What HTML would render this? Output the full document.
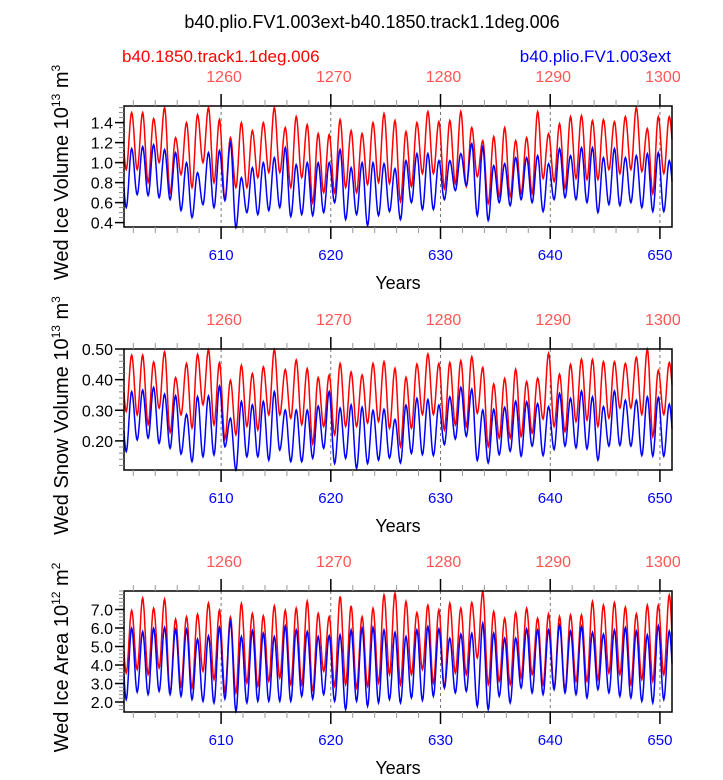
<!DOCTYPE html>
<html><head><meta charset="utf-8"><style>
body{margin:0;background:#fff}
svg text{font-family:"Liberation Sans",sans-serif}
</style></head><body>
<svg id="chart" width="723" height="775" xmlns="http://www.w3.org/2000/svg">
<text x="372" y="28" font-size="18" text-anchor="middle">b40.plio.FV1.003ext-b40.1850.track1.1deg.006</text>
<text x="122" y="62" font-size="17" fill="#ff0000">b40.1850.track1.1deg.006</text>
<text x="671" y="62" font-size="17" fill="#0000ff" text-anchor="end">b40.plio.FV1.003ext</text>
<g id="panels"></g>
</svg>
<script>
// ---- data: annual maxima/minima per year, starting at year 601 (red = year+650) ----
const startYear = 601;
const xTicksBlue = [610,620,630,640,650];
const xTicksRed = [1260,1270,1280,1290,1300];
// Panel 1: ice volume
const iceVolRedMax = [1.50,1.50,1.44,1.55,1.25,1.40,1.48,1.55,1.43,1.25,1.40,1.32,1.40,1.55,1.35,1.46,1.38,1.29,1.28,1.43,1.32,1.29,1.40,1.49,1.42,1.31,1.40,1.51,1.41,1.42,1.51,1.35,1.22,1.26,1.35,1.22,1.25,1.51,1.29,1.39,1.46,1.47,1.42,1.43,1.41,1.46,1.55,1.34,1.46,1.46,1.40];
const iceVolRedMin = [0.93,0.93,0.80,1.00,0.70,0.88,0.75,1.00,0.80,0.63,0.75,0.75,0.85,0.90,0.90,0.75,0.85,0.60,0.70,0.70,0.75,0.70,0.78,0.80,0.79,0.61,0.76,0.89,0.89,0.74,0.79,0.76,0.86,0.59,0.66,0.66,0.69,0.69,0.84,0.81,0.74,0.84,0.83,0.83,0.93,0.89,0.93,0.91,0.69,0.89,1.00];
const iceVolBlueMax = [1.14,1.16,1.18,1.13,1.10,1.00,0.90,1.10,1.12,1.20,0.85,0.95,1.00,1.05,1.15,0.98,1.00,1.00,1.00,1.13,0.95,1.00,1.00,0.99,0.94,1.02,1.09,1.09,1.02,1.02,1.09,1.19,1.16,0.97,0.99,1.05,1.05,1.07,0.99,1.14,1.07,1.15,1.15,1.05,1.14,1.05,1.07,1.09,1.10,1.02,0.98];
const iceVolBlueMin = [0.55,0.68,0.67,0.65,0.63,0.52,0.45,0.58,0.55,0.62,0.35,0.50,0.48,0.52,0.55,0.46,0.48,0.47,0.50,0.60,0.43,0.48,0.37,0.47,0.51,0.43,0.60,0.53,0.53,0.63,0.72,0.77,0.47,0.42,0.60,0.57,0.63,0.60,0.51,0.63,0.65,0.63,0.60,0.50,0.58,0.57,0.60,0.55,0.51,0.51,0.60];
// Panel 2: snow volume
const snowRedMax = [0.480,0.480,0.458,0.491,0.407,0.453,0.483,0.498,0.455,0.398,0.447,0.420,0.442,0.498,0.433,0.464,0.436,0.407,0.415,0.453,0.425,0.415,0.453,0.459,0.437,0.408,0.451,0.484,0.453,0.456,0.462,0.475,0.440,0.386,0.404,0.434,0.394,0.405,0.486,0.418,0.450,0.467,0.466,0.459,0.459,0.453,0.473,0.499,0.430,0.456,0.45];
const snowRedMin = [0.296,0.285,0.253,0.307,0.227,0.285,0.242,0.318,0.253,0.206,0.220,0.247,0.236,0.285,0.285,0.274,0.253,0.191,0.247,0.220,0.247,0.247,0.258,0.263,0.241,0.181,0.241,0.286,0.286,0.236,0.252,0.247,0.290,0.181,0.209,0.209,0.214,0.225,0.271,0.247,0.230,0.263,0.268,0.247,0.274,0.307,0.307,0.286,0.214,0.286,0.31];
const snowBlueMax = [0.361,0.366,0.375,0.353,0.348,0.287,0.345,0.347,0.379,0.274,0.329,0.318,0.329,0.361,0.301,0.301,0.301,0.314,0.361,0.307,0.318,0.310,0.300,0.303,0.270,0.317,0.339,0.335,0.317,0.344,0.375,0.369,0.301,0.303,0.310,0.330,0.328,0.322,0.312,0.355,0.339,0.363,0.344,0.312,0.363,0.333,0.333,0.344,0.342,0.320,0.32];
const snowBlueMin = [0.165,0.203,0.209,0.192,0.176,0.157,0.132,0.148,0.154,0.181,0.105,0.148,0.148,0.137,0.170,0.132,0.132,0.143,0.176,0.126,0.143,0.110,0.126,0.137,0.144,0.128,0.159,0.155,0.152,0.188,0.206,0.215,0.136,0.128,0.155,0.166,0.150,0.183,0.152,0.172,0.183,0.177,0.174,0.137,0.183,0.185,0.183,0.152,0.150,0.150,0.16];
// Panel 3: ice area
const areaRedMax = [6.95,7.62,7.07,7.56,6.48,6.61,6.75,7.35,6.96,6.59,7.33,6.79,6.66,7.20,6.96,7.07,7.45,6.79,6.61,7.71,7.20,6.61,7.07,7.79,7.88,7.43,6.84,7.24,6.99,7.34,7.07,7.38,7.97,6.89,6.53,6.84,7.07,6.53,6.77,6.62,6.71,6.71,7.43,7.24,7.38,7.13,6.77,7.24,7.24,7.79,7.5];
const areaRedMin = [3.57,3.75,3.48,3.84,2.49,2.85,2.76,3.66,3.21,2.58,2.49,3.03,2.85,3.12,3.30,2.94,2.94,2.58,3.66,2.85,2.94,2.76,2.85,3.03,3.48,2.94,3.48,3.75,3.03,2.76,3.57,3.48,4.38,2.94,3.12,2.94,3.30,3.48,2.94,2.76,2.67,3.12,3.12,3.21,3.57,3.48,2.94,3.21,3.12,3.48,3.3];
const areaBlueMax = [5.99,5.81,5.99,6.04,5.93,5.93,5.40,5.58,6.04,6.35,5.54,5.86,5.72,5.54,6.11,5.90,5.81,5.54,5.59,5.63,5.90,5.99,6.04,5.90,5.77,5.54,5.90,6.08,5.95,5.45,5.67,5.72,6.26,5.72,5.45,5.45,5.95,5.90,5.90,6.17,5.84,6.08,5.77,5.67,5.90,6.02,5.84,5.63,6.13,5.84,5.8];
const areaBlueMin = [2.13,2.53,2.40,2.58,2.40,2.31,2.13,2.04,1.95,2.17,1.50,1.95,2.04,2.04,2.04,2.04,2.31,2.17,2.40,2.04,1.59,2.04,1.77,1.95,2.13,1.95,2.22,2.08,2.31,2.76,2.49,2.58,1.77,1.59,2.31,1.95,2.76,2.49,2.40,2.67,2.49,2.40,2.22,2.67,2.49,2.31,2.22,2.04,1.95,2.13,2.31];

const panels = [
 {name:'ice-volume', top:106, bottom:227, ymin:0.356, ymax:1.566, ticks:[0.4,0.6,0.8,1.0,1.2,1.4], fmt:v=>v.toFixed(1), minor:0.05,
  title:'Wed Ice Volume 10', exp:'13', unit:' m', uexp:'3', red:[iceVolRedMax,iceVolRedMin], blue:[iceVolBlueMax,iceVolBlueMin]},
 {name:'snow-volume', top:349, bottom:470, ymin:0.105, ymax:0.50, ticks:[0.2,0.3,0.4,0.5], fmt:v=>v.toFixed(2), minor:0.02,
  title:'Wed Snow Volume 10', exp:'13', unit:' m', uexp:'3', red:[snowRedMax,snowRedMin], blue:[snowBlueMax,snowBlueMin]},
 {name:'ice-area', top:591, bottom:712, ymin:1.46, ymax:8.0, ticks:[2,3,4,5,6,7], fmt:v=>v.toFixed(1), minor:0.2,
  title:'Wed Ice Area 10', exp:'12', unit:' m', uexp:'2', red:[areaRedMax,areaRedMin], blue:[areaBlueMax,areaBlueMin]}
];
const X0=124, X1=672, yr0=601.15, yr1=651.1;
const xs = y => X0 + (y-yr0)/(yr1-yr0)*(X1-X0);
const NS='http://www.w3.org/2000/svg';
const root=document.getElementById('panels');
function mk(tag,attrs,parent){const e=document.createElementNS(NS,tag);for(const k in attrs)e.setAttribute(k,attrs[k]);(parent||root).appendChild(e);return e;}

panels.forEach((p,pi)=>{
  const g=mk('g',{});
  
  
  const ys=v=>p.bottom-(v-p.ymin)/(p.ymax-p.ymin)*(p.bottom-p.top);
  xTicksBlue.forEach(t=>{
    const l=mk('line',{x1:xs(t),x2:xs(t),y1:p.top,y2:p.bottom,stroke:'#555','stroke-width':0.8,'stroke-dasharray':'3,3'},g);
    
    
  });
  function series(arr,color,nm){
    const mx=arr[0], mn=arr[1];
    const ext=[];
    for(let i=0;i<mx.length;i++){ext.push([startYear+i+0.35,mn[i]]);ext.push([startYear+i+0.85,mx[i]]);}
    ext.unshift([startYear-0.15,mx[0]]);
    let d='';
    for(let k=0;k<ext.length-1;k++){
      const [t0,v0]=ext[k],[t1,v1]=ext[k+1];
      for(let s=0;s<=10;s++){
        const t=t0+(t1-t0)*s/10; if(t<yr0||t>yr1) continue;
        const v=v0+(v1-v0)*(1-Math.cos(Math.PI*s/10))/2;
        d+=(d?'L':'M')+xs(t).toFixed(1)+','+ys(v).toFixed(1);
      }
    }
    const path=mk('path',{d:d,fill:'none',stroke:color,'stroke-width':1.5},g);
    
    
  }
  series(p.red,'#ff0000',p.name+'-red-line');
  series(p.blue,'#0000ff',p.name+'-blue-line');
  const fr=mk('rect',{x:X0,y:p.top,width:X1-X0,height:p.bottom-p.top,fill:'none',stroke:'#000','stroke-width':1.5},g);
  
  
  for(let y=602;y<=650;y+=2){
    const major=y%10===0;
    mk('line',{x1:xs(y),x2:xs(y),y1:p.bottom,y2:p.bottom+(major?12:6),stroke:major?'#000':'#999','stroke-width':major?1.5:1},g);
    mk('line',{x1:xs(y),x2:xs(y),y1:p.top,y2:p.top-(major?12:6),stroke:major?'#000':'#999','stroke-width':major?1.5:1},g);
  }
  xTicksBlue.forEach(t=>{
    const tx=mk('text',{x:xs(t),y:p.bottom+33,'font-size':15,fill:'#0000ff','text-anchor':'middle'},g);tx.textContent=t;
    
    
  });
  xTicksRed.forEach((t,i)=>{
    const tx=mk('text',{x:xs(xTicksBlue[i])+3,y:p.top-24,'font-size':16,fill:'#ff5555','text-anchor':'middle'},g);tx.textContent=t;
    
    
  });
  const xt=mk('text',{x:398,y:p.bottom+62,'font-size':18,'text-anchor':'middle'},g);xt.textContent='Years';
  
  
  for(let v=Math.ceil(p.ymin/p.minor)*p.minor; v<=p.ymax+1e-9; v+=p.minor){
    mk('line',{x1:X0,x2:X0-5,y1:ys(v),y2:ys(v),stroke:'#888','stroke-width':1},g);
  }
  p.ticks.forEach(t=>{
    mk('line',{x1:X0,x2:X0-9,y1:ys(t),y2:ys(t),stroke:'#000','stroke-width':1.5},g);
    const tx=mk('text',{x:X0-11,y:ys(t)+6,'font-size':16,'text-anchor':'end'},g);tx.textContent=p.fmt(t);
    
    
  });
  const cy=(p.top+p.bottom)/2+6;
  const yt=mk('text',{x:0,y:0,'font-size':20,'text-anchor':'middle',transform:`translate(68,${cy}) rotate(-90)`},g);
  
  
  yt.innerHTML=`${p.title}<tspan dy="-8" font-size="12">${p.exp}</tspan><tspan dy="8">${p.unit}</tspan><tspan dy="-8" font-size="12">${p.uexp}</tspan>`;
});
</script>
</body></html>
